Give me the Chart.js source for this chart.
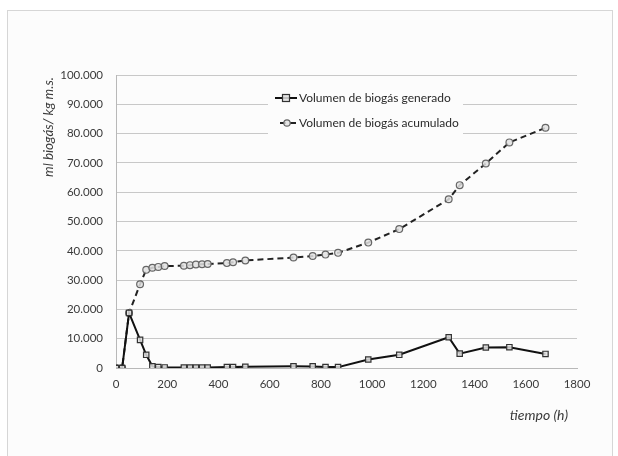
<!DOCTYPE html>
<html>
<head>
<meta charset="utf-8">
<script src="https://cdn.jsdelivr.net/npm/chart.js@4.4.1/dist/chart.umd.min.js"></script>
<style>
  html, body { margin: 0; padding: 0; background: #fff; }
  #frame { position: absolute; left: 7px; top: 10px; width: 604px; height: 460px; border: 1px solid #d6d6d6; background: #fcfcfc; }
  #wrap { position: absolute; left: 0; top: 0; width: 618px; height: 456px; }
</style>
</head>
<body>
<div id="frame"></div>
<div id="wrap"><canvas id="biogasChart" width="618" height="456"></canvas></div>
<script>
// Tiempos de muestreo (h)
const tiempos = [0, 24, 51, 94, 118, 142, 165, 190, 265, 289, 312, 336, 358, 433, 457, 505, 693, 768, 818, 867, 985, 1106, 1299, 1342, 1444, 1536, 1677];

// Volumen de biogás generado (ml/kg m.s.)
const generado = [0, 0, 18800, 9600, 4500, 600, 300, 200, 150, 150, 150, 150, 150, 300, 300, 400, 600, 550, 350, 300, 2900, 4500, 10500, 4900, 7000, 7100, 4800];

// Volumen de biogás acumulado (ml/kg m.s.)
const acumulado = [0, 0, 18800, 28600, 33500, 34200, 34500, 34800, 34900, 35100, 35300, 35400, 35500, 35800, 36100, 36700, 37700, 38200, 38700, 39300, 42800, 47400, 57600, 62400, 69800, 77000, 82000];

const etiquetas = ['Volumen de biogás generado', 'Volumen de biogás acumulado'];
const tituloY = 'ml biogás/ kg m.s.';
const tituloX = 'tiempo (h)';

const FONT = 'Lato, "Open Sans", sans-serif';
const TXT = '#3a3a3a';

function puntos(ys) {
    return tiempos.map((t, i) => ({ x: t, y: ys[i] }));
}

// Formato con punto de miles: 100.000
function miles(v) {
    return String(v).replace(/\B(?=(\d{3})+(?!\d))/g, '.');
}

// Títulos de los ejes colocados como en Excel
const titulosEjes = {
    id: 'titulosEjes',
    afterDraw(chart) {
        const ctx = chart.ctx;
        const area = chart.chartArea;
        ctx.save();
        ctx.fillStyle = TXT;
        ctx.font = 'italic 14px ' + FONT;
        ctx.textBaseline = 'middle';
        ctx.textAlign = 'right';
        ctx.fillText(tituloX, area.right - 9, area.bottom + 47);
        ctx.font = 'italic 13.5px ' + FONT;
        ctx.translate(area.left - 67, area.top + 52);
        ctx.rotate(-Math.PI / 2);
        ctx.textAlign = 'center';
        ctx.fillText(tituloY, 0, 0);
        ctx.restore();
    }
};

// Leyenda dentro del área del gráfico
const leyenda = {
    id: 'leyenda',
    afterDatasetsDraw(chart) {
        const ctx = chart.ctx;
        const area = chart.chartArea;
        const x0 = area.left + 152;
        const y0 = area.top + 11;
        ctx.save();
        ctx.fillStyle = '#fcfcfc';
        ctx.fillRect(x0, y0, 195, 54);
        chart.data.datasets.forEach((ds, i) => {
            const y = y0 + 12 + i * 25;
            ctx.strokeStyle = ds.borderColor;
            ctx.lineWidth = ds.borderWidth;
            ctx.setLineDash(ds.borderDash || []);
            ctx.beginPath();
            ctx.moveTo(x0 + 7 + (i ? 5 : 0), y);
            ctx.lineTo(x0 + 29, y);
            ctx.stroke();
            ctx.setLineDash([]);
            ctx.fillStyle = ds.pointBackgroundColor;
            ctx.strokeStyle = ds.pointBorderColor;
            ctx.lineWidth = ds.pointBorderWidth;
            const cx = x0 + 18 + (i ? 1 : 0);
            if (ds.pointStyle === 'rect') {
                ctx.fillRect(cx - 3.5, y - 3.5, 7, 7);
                ctx.strokeRect(cx - 3.5, y - 3.5, 7, 7);
            } else {
                ctx.beginPath();
                ctx.arc(cx, y, 3.2, 0, Math.PI * 2);
                ctx.fill();
                ctx.stroke();
            }
            ctx.font = '12px ' + FONT;
            ctx.fillStyle = '#2a2a2a';
            ctx.textBaseline = 'middle';
            ctx.fillText(ds.label, x0 + 31, y);
        });
        ctx.restore();
    }
};

const ctx = document.getElementById('biogasChart').getContext('2d');
const biogasChart = new Chart(ctx, {
    type: 'line',
    data: {
        datasets: [
            {
                label: etiquetas[0],
                data: puntos(generado),
                borderColor: '#111',
                borderWidth: 2,
                pointStyle: 'rect',
                pointRadius: 3.8,
                pointBorderColor: '#333',
                pointBorderWidth: 1.2,
                pointBackgroundColor: 'rgba(225,225,225,0.85)',
                tension: 0
            },
            {
                label: etiquetas[1],
                data: puntos(acumulado),
                borderColor: '#222',
                borderWidth: 2,
                borderDash: [6, 4],
                pointStyle: 'circle',
                pointRadius: 3.4,
                pointBorderColor: '#666',
                pointBorderWidth: 1.2,
                pointBackgroundColor: 'rgba(225,225,225,0.85)',
                tension: 0
            }
        ]
    },
    options: {
        responsive: false,
        animation: false,
        layout: { padding: { left: 0, top: 75, right: 41, bottom: 30 } },
        plugins: {
            legend: { display: false },
            tooltip: { enabled: false }
        },
        scales: {
            x: {
                type: 'linear',
                min: 0,
                max: 1800,
                afterFit(scale) { scale.height = 58; },
                grid: { display: false, drawTicks: false },
                border: { color: '#b8b8b8' },
                ticks: {
                    stepSize: 200,
                    padding: 9,
                    color: TXT,
                    font: { family: FONT, size: 11.5 },
                    callback: (v) => String(v)
                }
            },
            y: {
                min: 0,
                max: 100000,
                afterFit(scale) { scale.width = 116; },
                grid: { color: '#c8c8c8', drawTicks: false },
                border: { color: '#b8b8b8' },
                ticks: {
                    stepSize: 10000,
                    padding: 13,
                    color: TXT,
                    font: { family: FONT, size: 11.5 },
                    callback: (v) => miles(v)
                }
            }
        }
    },
    plugins: [titulosEjes, leyenda]
});
</script>
</body>
</html>
